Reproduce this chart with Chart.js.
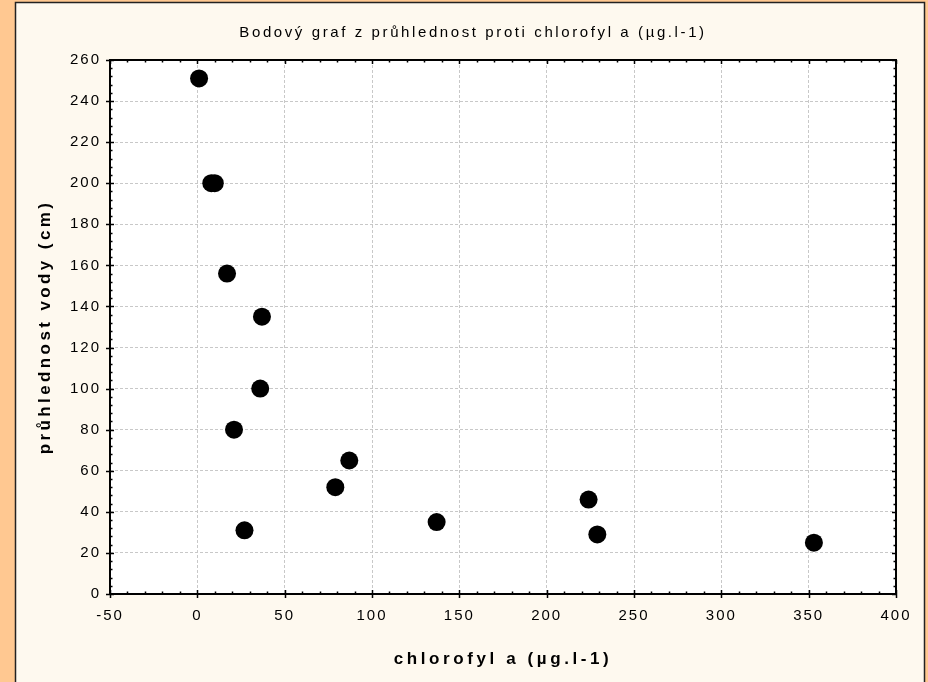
<!DOCTYPE html>
<html>
<head>
<meta charset="utf-8">
<script src="https://cdn.jsdelivr.net/npm/chart.js@4/dist/chart.umd.min.js"></script>
<style>
  html, body { margin: 0; padding: 0; background: #ffc891; }
  canvas { display: block; }
</style>
</head>
<body>
<canvas id="chart" width="928" height="682"></canvas>
<script>
// data
var chlorofyl = [1, 8, 10, 17, 21, 27, 36, 37, 79, 87, 137, 224, 229, 353];
var pruhlednost = [251, 200, 200, 156, 80, 31, 100, 135, 52, 65, 35, 46, 29, 25];

var xMin = -50, xMax = 400, xStep = 50, xMinorStep = 10;
var yMin = 0, yMax = 260, yStep = 20, yMinorStep = 4;

var chartTitle = 'Bodový graf z průhlednost proti chlorofyl a (µg.l-1)';
var xTitle = 'chlorofyl a (µg.l-1)';
var yTitle = 'průhlednost vody (cm)';

var FONT = '"Liberation Sans", Arial, sans-serif';

// run a draw method with its own letter spacing
function spaced(obj, method, spacing) {
    var orig = obj[method];
    if (orig._spaced) return;
    obj[method] = function () {
        var c = this.ctx || this.chart.ctx;
        c.save();
        c.letterSpacing = spacing;
        var r = orig.apply(this, arguments);
        c.restore();
        return r;
    };
    obj[method]._spaced = true;
}

// backgrounds, frame and tick marks in the old Statistica style
var framePlugin = {
    id: 'frame',
    beforeLayout: function (chart) {
        chart.ctx.letterSpacing = '2px';
    },
    afterLayout: function (chart) {
        spaced(chart.scales.x, 'drawTitle', '3.6px');
        spaced(chart.scales.y, 'drawTitle', '3.4px');
        if (chart.titleBlock) spaced(chart.titleBlock, 'draw', '2.6px');
    },
    beforeDraw: function (chart) {
        var ctx = chart.ctx;
        var a = chart.chartArea;
        ctx.save();
        ctx.fillStyle = '#ffc891';
        ctx.fillRect(0, 0, chart.width, chart.height);
        ctx.fillStyle = '#fef9ef';
        ctx.fillRect(15, 2, 910, chart.height);
        ctx.strokeStyle = '#222';
        ctx.lineWidth = 1.5;
        ctx.strokeRect(15.5, 2.5, 909, chart.height + 10);
        ctx.fillStyle = '#ffffff';
        ctx.fillRect(a.left, a.top, a.right - a.left, a.bottom - a.top);
        ctx.restore();
        ctx.letterSpacing = '2px';
    },
    afterDraw: function (chart) {
        var ctx = chart.ctx;
        var a = chart.chartArea;
        var xs = chart.scales.x, ys = chart.scales.y;
        ctx.save();
        ctx.strokeStyle = '#000';
        ctx.lineWidth = 1.5;
        ctx.beginPath();
        var v, p, len;
        for (v = xMin; v <= xMax; v += xMinorStep) {
            p = Math.round(xs.getPixelForValue(v)) + 0.5;
            var major = (v - xMin) % xStep === 0;
            len = major ? 4 : 2.5;
            ctx.moveTo(p, a.bottom + (major ? 4 : 0));
            ctx.lineTo(p, a.bottom - len);
            ctx.moveTo(p, a.top);
            ctx.lineTo(p, a.top + len);
        }
        for (v = yMin; v <= yMax; v += yMinorStep) {
            p = Math.round(ys.getPixelForValue(v)) + 0.5;
            var majorY = (v - yMin) % yStep === 0;
            len = majorY ? 4 : 2.5;
            ctx.moveTo(a.left - (majorY ? 4 : 0), p);
            ctx.lineTo(a.left + len, p);
            ctx.moveTo(a.right, p);
            ctx.lineTo(a.right - len, p);
        }
        ctx.stroke();
        ctx.lineWidth = 2;
        ctx.strokeRect(a.left, a.top, a.right - a.left, a.bottom - a.top);
        ctx.restore();
    }
};

var ctx = document.getElementById('chart').getContext('2d');
var myChart = new Chart(ctx, {
    type: 'scatter',
    data: {
        datasets: [{
            label: 'průhlednost',
            data: chlorofyl.map(function (x, i) { return { x: x, y: pruhlednost[i] }; }),
            backgroundColor: '#000',
            borderColor: '#000',
            borderWidth: 0,
            pointRadius: 9,
            pointHoverRadius: 9
        }]
    },
    options: {
        responsive: false,
        animation: false,
        devicePixelRatio: 1,
        layout: { padding: { left: 18, right: 0, top: 0, bottom: 0 } },
        scales: {
            x: {
                type: 'linear',
                min: xMin,
                max: xMax,
                ticks: {
                    stepSize: xStep,
                    color: '#000',
                    padding: 13,
                    maxRotation: 0,
                    font: { family: FONT, size: 15 }
                },
                grid: {
                    color: '#c8c8c8',
                    drawTicks: false
                },
                border: { display: false, dash: [3, 2] },
                title: {
                    display: true,
                    text: xTitle,
                    color: '#000',
                    font: { family: FONT, size: 17, weight: 'bold' },
                    padding: { top: 0, bottom: 12.8 }
                },
                afterFit: function (scale) {
                    scale.height = 88;
                    scale.paddingRight = 32;
                }
            },
            y: {
                type: 'linear',
                min: yMin,
                max: yMax,
                ticks: {
                    stepSize: yStep,
                    color: '#000',
                    padding: 9,
                    font: { family: FONT, size: 15 }
                },
                grid: {
                    color: '#c8c8c8',
                    drawTicks: false
                },
                border: { display: false, dash: [3, 2] },
                title: {
                    display: true,
                    text: yTitle,
                    color: '#000',
                    font: { family: FONT, size: 17, weight: 'bold' },
                    padding: { top: 16.8, bottom: 0 }
                },
                afterFit: function (scale) {
                    scale.width = 92;
                }
            }
        },
        plugins: {
            legend: { display: false },
            tooltip: { enabled: false },
            title: {
                display: true,
                text: chartTitle,
                color: '#000',
                font: { family: FONT, size: 15, weight: 'normal', lineHeight: 1.2 },
                padding: { top: 24, bottom: 18 }
            }
        }
    },
    plugins: [framePlugin]
});
</script>
</body>
</html>
